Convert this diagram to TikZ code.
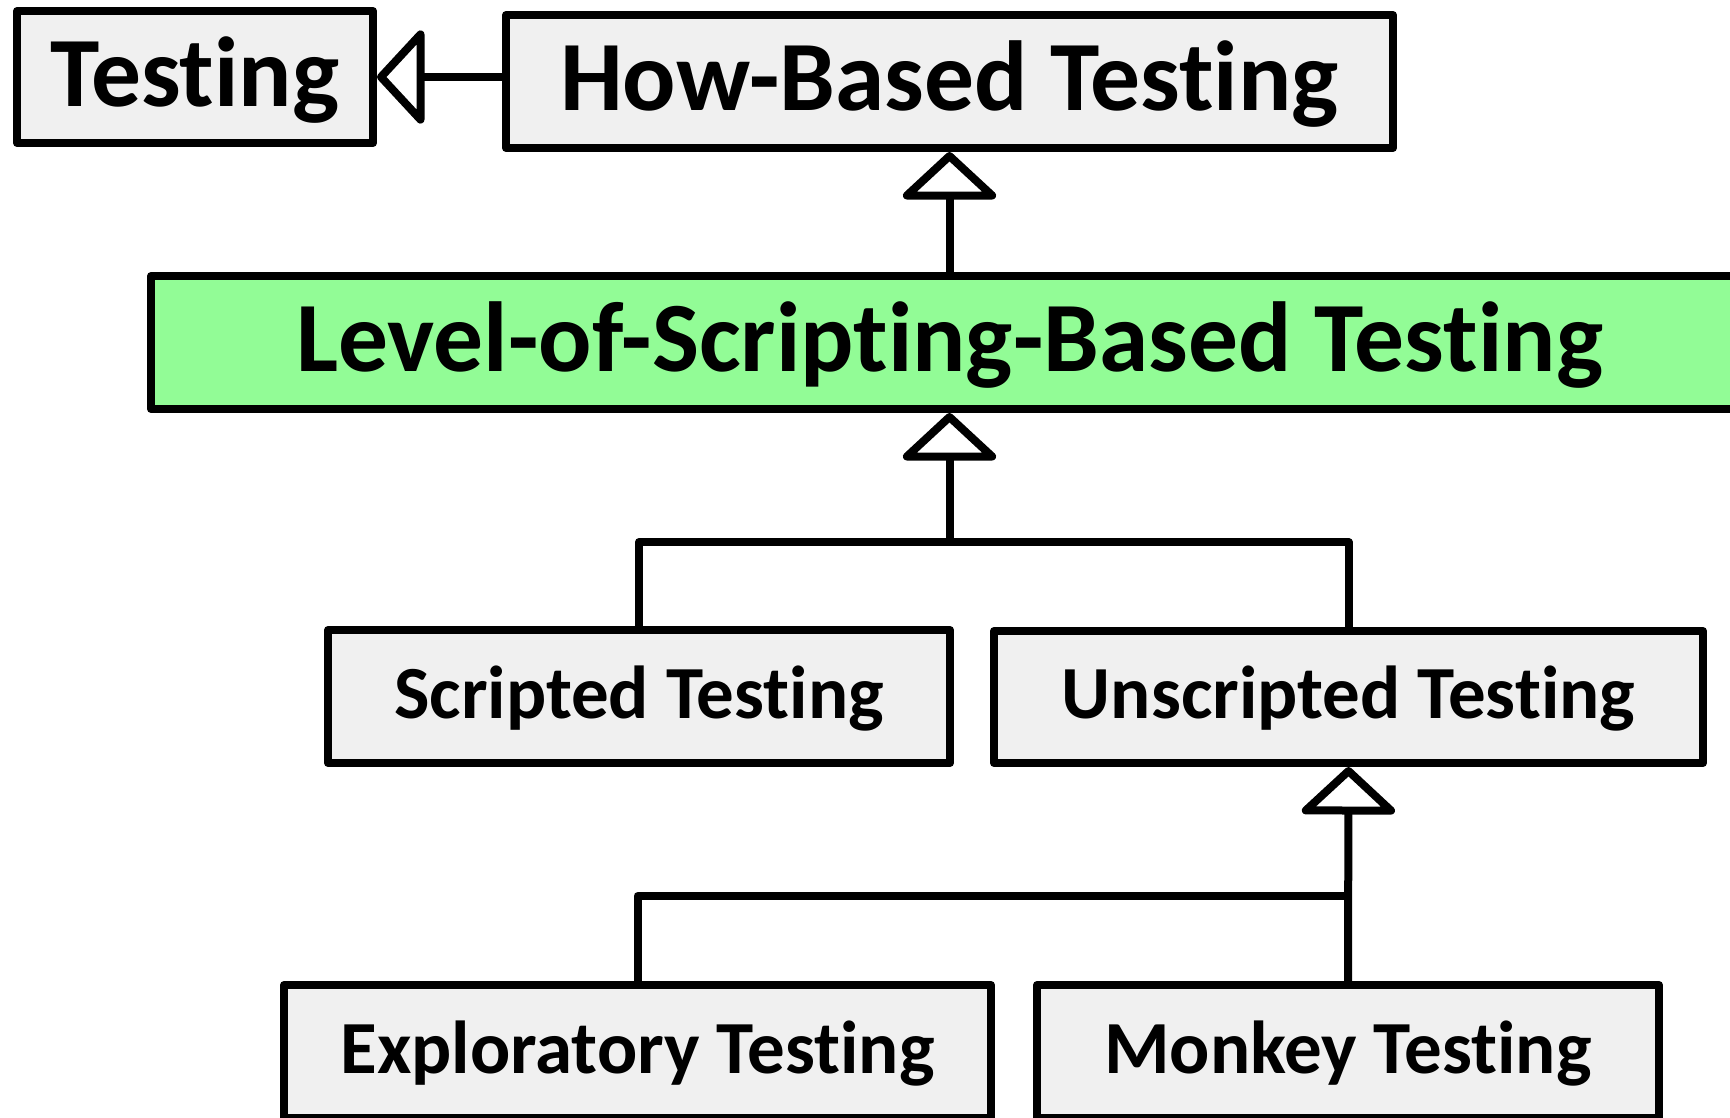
\documentclass[tikz,border=0pt]{standalone}
\usepackage{fontspec}
\setmainfont{Carlito}[Ligatures={NoCommon,NoContextual}]
\usetikzlibrary{arrows.meta}
\definecolor{boxgrey}{RGB}{240,240,240}
\definecolor{lvlgreen}{RGB}{146,252,150}
\tikzset{
  cls/.style={draw=black, line width=8pt, line join=round, fill=boxgrey, inner sep=0pt, font=\bfseries},
  big/.style={font=\fontsize{99.5}{112}\selectfont\bfseries, text depth=11pt},
  small/.style={font=\fontsize{75}{88}\selectfont\bfseries, text depth=9pt},
  link/.style={draw=black, line width=8pt, line join=round},
  gen/.style={link, -{Triangle[length=49pt, width=104pt, fill=white, line join=round, round]}}
}
\begin{document}
\begin{tikzpicture}[x=1pt, y=-1pt]
\useasboundingbox (0,0) rectangle (1730,1117);
\clip (0,0) rectangle (1730,1117);
\node[cls, big, minimum width=356pt, minimum height=132pt] (test) at (195,77) {Testing};
\node[cls, big, minimum width=887pt, minimum height=133pt] (how) at (949.5,81.5) {How-Based Testing};
\node[cls, big, fill=lvlgreen, minimum width=1597pt, minimum height=133pt] (lvl) at (949.5,342.5) {Level-of-Scripting-Based Testing};
\node[cls, small, minimum width=622pt, minimum height=133pt] (scr) at (639,696.5) {Scripted Testing};
\node[cls, small, minimum width=709pt, minimum height=132pt] (uns) at (1348.5,697) {Unscripted Testing};
\node[cls, small, minimum width=707pt, minimum height=133pt] (exp) at (637.5,1051.5) {Exploratory Testing};
\node[cls, small, minimum width=622pt, minimum height=133pt] (mon) at (1348,1051.5) {Monkey Testing};
\coordinate (j1) at (949.5,542);
\coordinate (j2) at (1348,896);
\draw[gen] (how.west |- test.east) -- (test.east);
\draw[gen] (lvl.north) -- (how.south);
\draw[link] (uns.north) |- (j1);
\draw[gen] (scr.north) |- (j1) -- (lvl.south);
\draw[link] (exp.north) |- (j2);
\draw[gen] (mon.north) -- (uns.south);
\end{tikzpicture}
\end{document}
